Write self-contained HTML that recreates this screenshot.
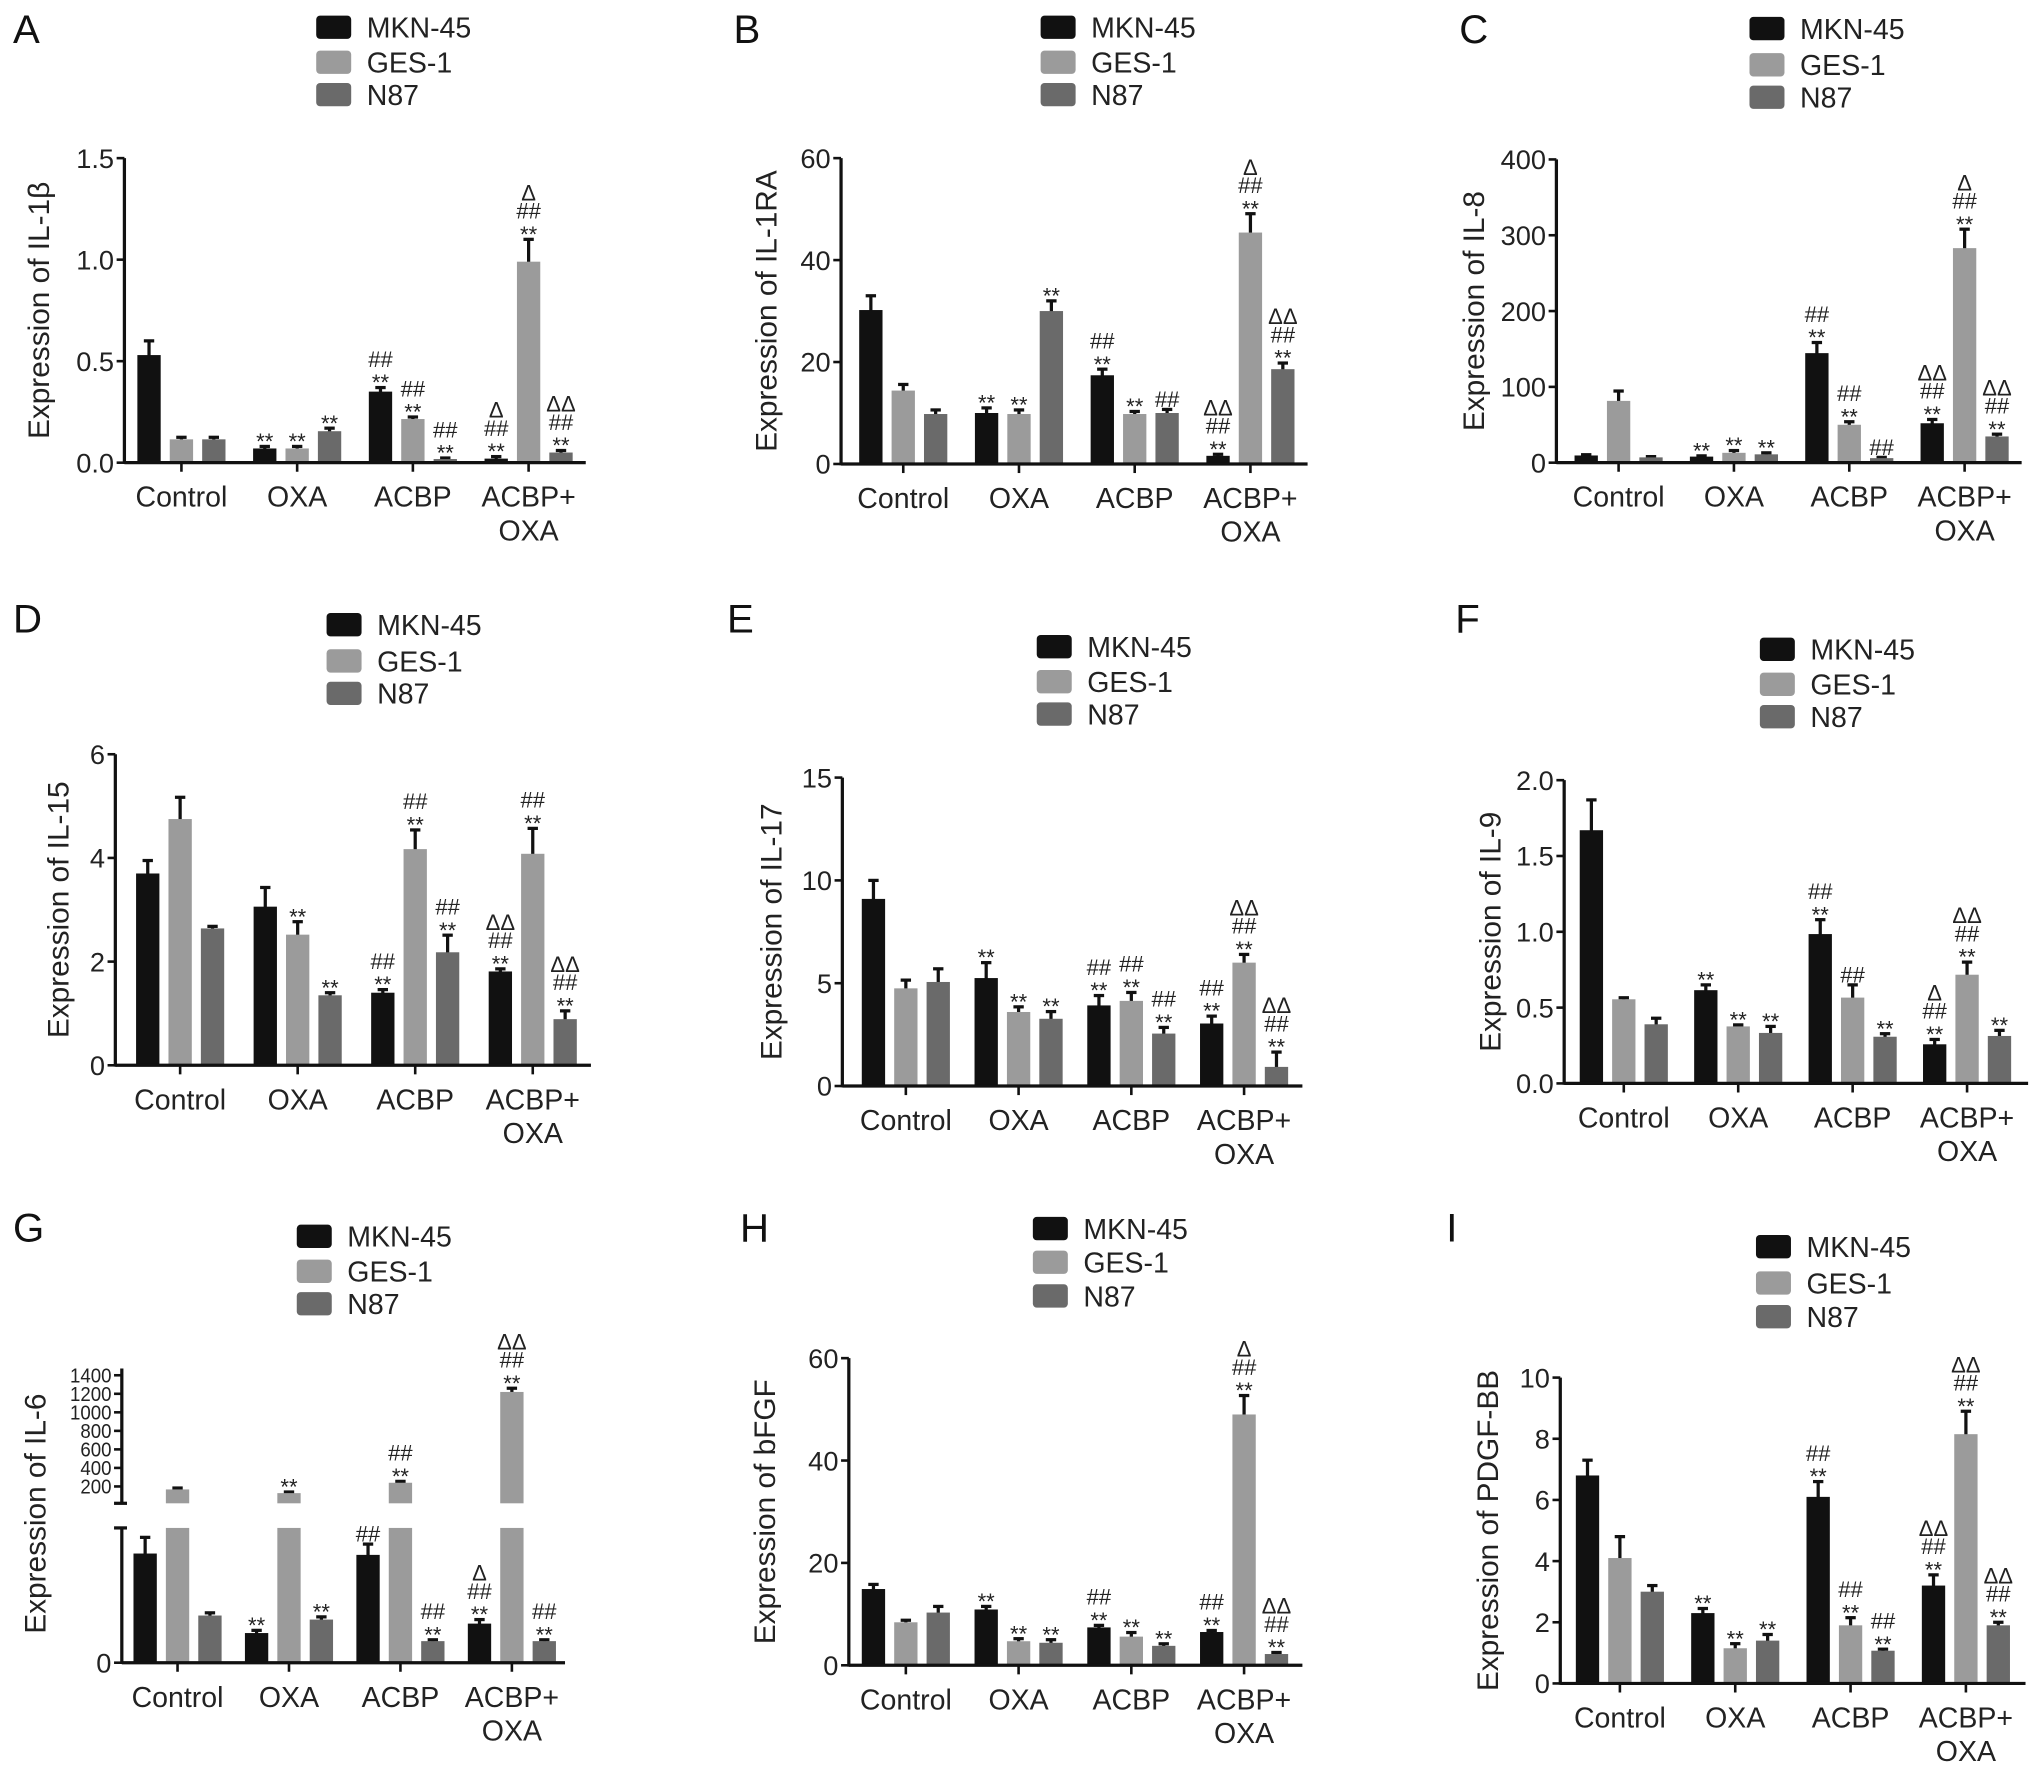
<!DOCTYPE html>
<html><head><meta charset="utf-8"><style>
html,body{margin:0;padding:0;background:#fff;}
svg{display:block;font-family:"Liberation Sans",Arial,sans-serif;}
</style></head><body>
<svg id="fig" width="2032" height="1769" viewBox="0 0 1568 1365" xmlns="http://www.w3.org/2000/svg"></svg>
<script>
const categories = ['Control', 'OXA', 'ACBP', 'ACBP+|OXA'];
const seriesNames = ['MKN-45', 'GES-1', 'N87'];
const seriesColors = ['#111111', '#9b9b9b', '#6a6a6a'];

const valsA = [[0.53,0.07,0.35,0.02],[0.115,0.07,0.215,0.99],[0.115,0.155,0.018,0.05]];
const sdA = [[0.07,0.01,0.02,0.01],[0.01,0.01,0.01,0.11],[0.01,0.015,0.005,0.01]];
const annA = [['','',''],['**','**','**'],['**|##','**|##','**|##'],['**|##|Δ','**|##|Δ','**|##|ΔΔ']];
const ticksA = [0,0.5,1,1.5];
const tickLabA = ['0.0','0.5','1.0','1.5'];

const valsB = [[30.2,10,17.4,1.6],[14.4,9.8,9.8,45.4],[9.8,30,10,18.6]];
const sdB = [[2.8,1,1.2,0.3],[1.2,0.8,0.5,3.7],[0.8,2,0.7,1.2]];
const annB = [['','',''],['**','**','**'],['**|##','**','##'],['**|##|ΔΔ','**|##|Δ','**|##|ΔΔ']];
const ticksB = [0,20,40,60];
const tickLabB = ['0','20','40','60'];

const valsC = [[9.5,8,144.5,52],[81.5,13,50,283],[7,11,6,34.6]];
const sdC = [[1,1,14,5],[13,3,4,25],[1,2,1,3]];
const annC = [['','',''],['**','**','**'],['**|##','**|##','##'],['**|##|ΔΔ','**|##|Δ','**|##|ΔΔ']];
const ticksC = [0,100,200,300,400];
const tickLabC = ['0','100','200','300','400'];

const valsD = [[3.7,3.06,1.4,1.81],[4.75,2.52,4.17,4.08],[2.64,1.35,2.18,0.89]];
const sdD = [[0.25,0.37,0.06,0.05],[0.42,0.25,0.37,0.49],[0.04,0.05,0.33,0.16]];
const annD = [['','',''],['','**','**'],['**|##','**|##','**|##'],['**|##|ΔΔ','**|##','**|##|ΔΔ']];
const ticksD = [0,2,4,6];
const tickLabD = ['0','2','4','6'];

const valsE = [[9.1,5.25,3.92,3.04],[4.75,3.6,4.14,6.0],[5.06,3.27,2.55,0.93]];
const sdE = [[0.9,0.75,0.48,0.36],[0.4,0.25,0.41,0.4],[0.64,0.35,0.3,0.72]];
const annE = [['','',''],['**','**','**'],['**|##','**|##','**|##'],['**|##','**|##|ΔΔ','**|##|ΔΔ']];
const ticksE = [0,5,10,15];
const tickLabE = ['0','5','10','15'];

const valsF = [[1.67,0.615,0.985,0.258],[0.555,0.376,0.566,0.717],[0.39,0.333,0.308,0.313]];
const sdF = [[0.2,0.035,0.095,0.032],[0.01,0.01,0.084,0.083],[0.04,0.043,0.02,0.037]];
const annF = [['','',''],['**','**','**'],['**|##','##','**'],['**|##|Δ','**|##|ΔΔ','**']];
const ticksF = [0,0.5,1,1.5,2];
const tickLabF = ['0.0','0.5','1.0','1.5','2.0'];

const valsG = [[8.1,2.2,8.0,2.9],[168,128,240,1220],[3.5,3.2,1.6,1.6]];
const sdG = [[1.2,0.2,0.8,0.3],[15,12,15,40],[0.2,0.2,0.1,0.1]];
const annG = [['','',''],['**','**','**'],['##','**|##','**|##'],['**|##|Δ','**|##|ΔΔ','**|##']];
const ticksG = [0,200,400,600,800,1000,1200,1400];
const tickLabG = ['0','200','400','600','800','1000','1200','1400'];

const valsH = [[14.9,10.9,7.4,6.5],[8.4,4.7,5.6,49],[10.3,4.4,3.8,2.2]];
const sdH = [[0.9,0.6,0.4,0.3],[0.4,0.5,0.8,3.7],[1.2,0.6,0.4,0.3]];
const annH = [['','',''],['**','**','**'],['**|##','**','**'],['**|##','**|##|Δ','**|##|ΔΔ']];
const ticksH = [0,20,40,60];
const tickLabH = ['0','20','40','60'];

const valsI = [[6.8,2.3,6.1,3.2],[4.1,1.15,1.9,8.15],[3.0,1.4,1.07,1.9]];
const sdI = [[0.5,0.15,0.5,0.35],[0.7,0.15,0.25,0.75],[0.2,0.2,0.05,0.1]];
const annI = [['','',''],['**','**','**'],['**|##','**|##','**|##'],['**|##|ΔΔ','**|##|ΔΔ','**|##|ΔΔ']];
const ticksI = [0,2,4,6,8,10];
const tickLabI = ['0','2','4','6','8','10'];

const panels = [
 {id:'a',letter:'A',title:'Expression of IL-1β',vals:valsA,sd:sdA,ann:annA,ticks:ticksA,labs:tickLabA,max:1.5,ax:96,x0:140,step:89.3,xEnd:452,yTop:122,yZero:357,lgX:244,lgY:[21,48,73],lx:10,ly:33,tOff:58},
 {id:'b',letter:'B',title:'Expression of IL-1RA',vals:valsB,sd:sdB,ann:annB,ticks:ticksB,labs:tickLabB,max:60,ax:649,x0:697,step:89.3,xEnd:1009,yTop:122,yZero:358,lgX:803,lgY:[21,48,73],lx:566,ly:33,tOff:50},
 {id:'c',letter:'C',title:'Expression of IL-8',vals:valsC,sd:sdC,ann:annC,ticks:ticksC,labs:tickLabC,max:400,ax:1201,x0:1249,step:89,xEnd:1560,yTop:123,yZero:357,lgX:1350,lgY:[22,50,75],lx:1126,ly:33,tOff:56},
 {id:'d',letter:'D',title:'Expression of IL-15',vals:valsD,sd:sdD,ann:annD,ticks:ticksD,labs:tickLabD,max:6,ax:89,x0:139,step:90.7,xEnd:456,yTop:582,yZero:822,lgX:252,lgY:[482,510,535],lx:10,ly:488,tOff:36},
 {id:'e',letter:'E',title:'Expression of IL-17',vals:valsE,sd:sdE,ann:annE,ticks:ticksE,labs:tickLabE,max:15,ax:650,x0:699,step:87,xEnd:1005,yTop:600,yZero:838,lgX:800,lgY:[499,526,551],lx:561,ly:488,tOff:47},
 {id:'f',letter:'F',title:'Expression of IL-9',vals:valsF,sd:sdF,ann:annF,ticks:ticksF,labs:tickLabF,max:2,ax:1207,x0:1253,step:88.3,xEnd:1565,yTop:602,yZero:836,lgX:1358,lgY:[501,528,553],lx:1123,ly:488,tOff:49},
 {id:'g',letter:'G',title:'Expression of IL-6',vals:valsG,sd:sdG,ann:annG,ticks:ticksG,labs:tickLabG,max:10,ax:94,x0:137,step:86,xEnd:436,yTop:1179,yZero:1283,lgX:229,lgY:[954,981,1006],lx:10,ly:958,tOff:59,broken:true},
 {id:'h',letter:'H',title:'Expression of bFGF',vals:valsH,sd:sdH,ann:annH,ticks:ticksH,labs:tickLabH,max:60,ax:655,x0:699,step:87,xEnd:1005,yTop:1048,yZero:1285,lgX:797,lgY:[948,974,1000],lx:571,ly:958,tOff:57},
 {id:'i',letter:'I',title:'Expression of PDGF-BB',vals:valsI,sd:sdI,ann:annI,ticks:ticksI,labs:tickLabI,max:10,ax:1204,x0:1250,step:89,xEnd:1563,yTop:1063,yZero:1299,lgX:1355,lgY:[962,990,1016],lx:1116,ly:958,tOff:48}
];

const NS = 'http://www.w3.org/2000/svg';
const svg = document.getElementById('fig');
function mk(tag, attrs, parent) {
  const e = document.createElementNS(NS, tag);
  for (const k in attrs) e.setAttribute(k, attrs[k]);
  (parent || svg).appendChild(e);
  return e;
}
function txt(str, attrs, parent) {
  const e = mk('text', attrs, parent);
  e.textContent = str;
  return e;
}

panels.forEach(p => {
  const g = mk('g', {});
  
  

  const upperY = v => 1147 - (v - 200) * 0.0715;
  const yOf = v => {
    if (p.broken && v > p.max) return upperY(v);
    return p.yZero - v / p.max * (p.yZero - p.yTop);
  };

  const L = txt(p.letter, {x:p.lx, y:p.ly, 'font-size':31, fill:'#111'}, g);
  
  

  seriesNames.forEach((s, si) => {
    const sw = mk('rect', {x:p.lgX, y:p.lgY[si]-9, width:27, height:18, rx:3, fill:seriesColors[si]}, g);
    
    
    const lt = txt(s, {x:p.lgX+39, y:p.lgY[si]+8, 'font-size':22, fill:'#222'}, g);
    
    
  });

  if (p.broken) {
    const ya = mk('line', {x1:p.ax, y1:p.yZero+1, x2:p.ax, y2:p.yTop, stroke:'#111','stroke-width':2.5}, g);
    
    
    const yb = mk('line', {x1:p.ax, y1:1160, x2:p.ax, y2:1056, stroke:'#111','stroke-width':2.5}, g);
    
    
    const c1 = mk('line', {x1:p.ax-6, y1:p.yTop, x2:p.ax+4, y2:p.yTop, stroke:'#111','stroke-width':2.5}, g);
    
    
    const c2 = mk('line', {x1:p.ax-6, y1:1160, x2:p.ax+4, y2:1160, stroke:'#111','stroke-width':2.5}, g);
    
    
  } else {
    const ya = mk('line', {x1:p.ax, y1:p.yZero+1, x2:p.ax, y2:p.yTop, stroke:'#111','stroke-width':2.5}, g);
    
    
  }
  p.ticks.forEach((t, ti) => {
    const y = p.broken ? (t === 0 ? p.yZero : upperY(t)) : yOf(t);
    const tk = mk('line', {x1:p.ax-6, y1:y, x2:p.ax, y2:y, stroke:'#111','stroke-width':2}, g);
    
    
    const small = p.broken && t > 0;
    const fs = small ? 16 : 21;
    const tl = txt(p.labs[ti], {x:p.ax-8, y:y+(small?5.5:7.5), 'font-size':fs, 'text-anchor':'end', fill:'#222'}, g);
    if (small) { tl.setAttribute('textLength', p.labs[ti].length * 8); tl.setAttribute('lengthAdjust', 'spacingAndGlyphs'); }
    
    
  });
  const midY = p.broken ? 1168 : (p.yTop + p.yZero) / 2;
  const tx = p.ax - p.tOff;
  const yt = txt(p.title, {x:tx, y:midY, 'font-size':23, 'text-anchor':'middle', fill:'#222', transform:'rotate(-90 '+tx+' '+midY+')'}, g);
  
  

  categories.forEach((cat, ci) => {
    const cx = p.x0 + ci * p.step;
    seriesNames.forEach((s, si) => {
      const v = p.vals[si][ci];
      const sd = p.sd[si][ci];
      const bx = cx + (si - 1) * 25;
      const top = yOf(v);
      const errTop = yOf(v + sd);
      const eb = mk('line', {x1:bx, y1:top+2, x2:bx, y2:errTop, stroke:'#111','stroke-width':2.5}, g);
      
      
      const ec = mk('line', {x1:bx-4, y1:errTop, x2:bx+4, y2:errTop, stroke:'#111','stroke-width':2.5}, g);
      
      
      if (p.broken && v > p.max) {
        const r1 = mk('rect', {x:bx-9, y:p.yTop, width:18, height:p.yZero-p.yTop, fill:seriesColors[si]}, g);
        
        
        const r2 = mk('rect', {x:bx-9, y:top, width:18, height:1160-top, fill:seriesColors[si]}, g);
        
        
      } else {
        const r = mk('rect', {x:bx-9, y:top, width:18, height:p.yZero-top, fill:seriesColors[si]}, g);
        
        
      }
      const a = p.ann[ci][si];
      if (a) {
        a.split('|').forEach((m, k) => {
          const c = errTop - 8 - 14 * k;
          const at = txt(m, {x:bx, y: m === '**' ? c + 10 : c + 6, 'font-size':17, 'text-anchor':'middle', fill:'#222'}, g);
          
          
        });
      }
    });
    const xt = mk('line', {x1:cx, y1:p.yZero, x2:cx, y2:p.yZero+7, stroke:'#111','stroke-width':2}, g);
    
    
    cat.split('|').forEach((line, li) => {
      const xl = txt(line, {x:cx, y:p.yZero+34+li*26, 'font-size':22, 'text-anchor':'middle', fill:'#222'}, g);
      
      
    });
  });
  const xa = mk('line', {x1:p.ax, y1:p.yZero, x2:p.xEnd, y2:p.yZero, stroke:'#111','stroke-width':2.5}, g);
  
  
});
</script>
</body></html>
